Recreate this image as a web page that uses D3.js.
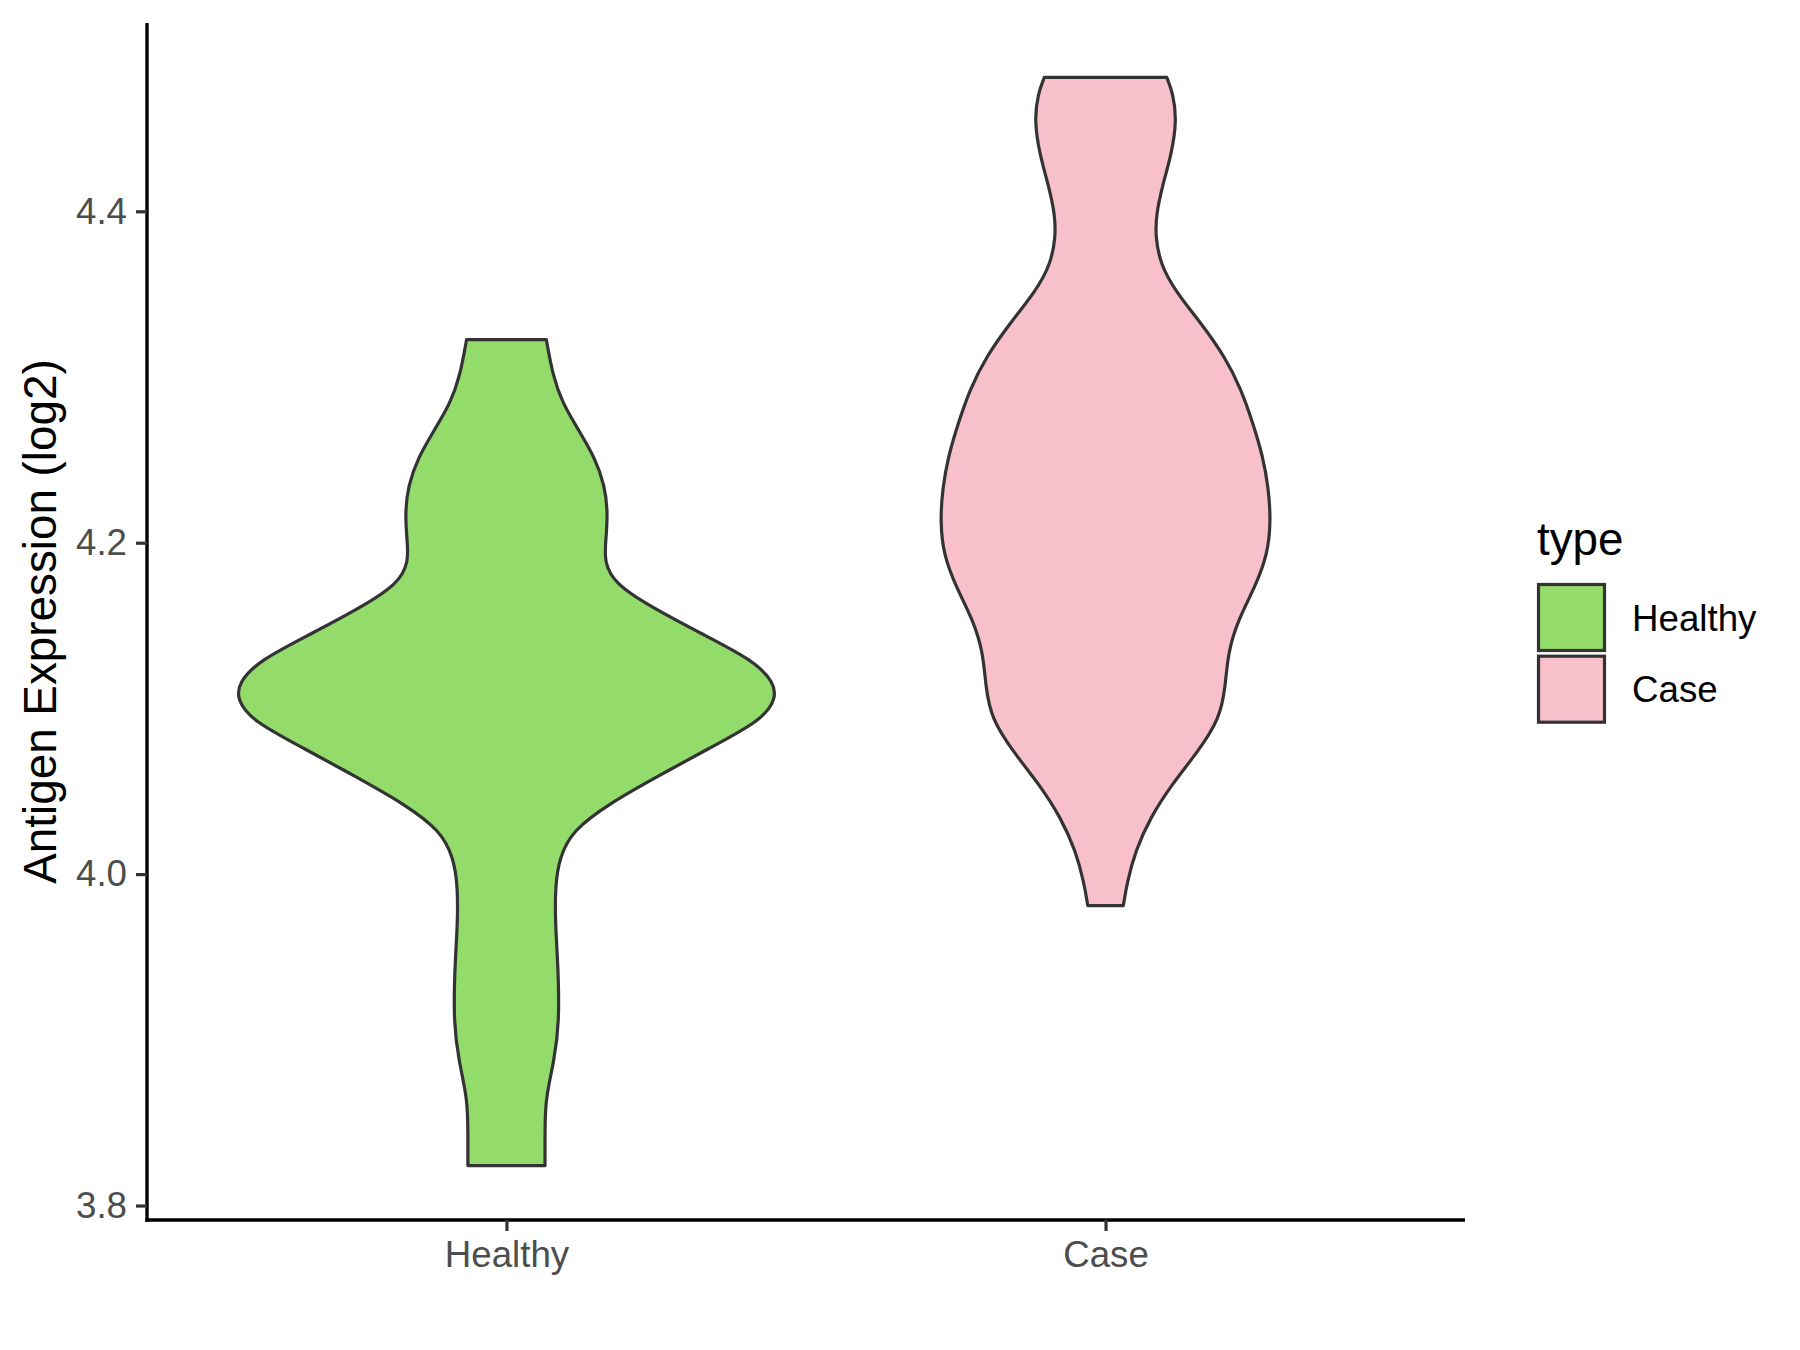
<!DOCTYPE html>
<html>
<head>
<meta charset="utf-8">
<script src="https://cdn.jsdelivr.net/npm/d3@7"></script>
<style>
  body { margin: 0; background: #fff; }
  text { font-family: "Liberation Sans", Arial, sans-serif; }
</style>
</head>
<body>
<script>
// categories and fills
var categories = ["Healthy", "Case"];
var fills = ["#93DB6B", "#F8C0CB"];

// density profile (value, relative width)
var healthyValues = [4.3225, 4.3008, 4.2845, 4.2676, 4.2513, 4.2344, 4.2181, 4.2018, 4.1885, 4.1753,
  4.1620, 4.1451, 4.1288, 4.1155, 4.1056, 4.0926, 4.0757, 4.0594, 4.0425, 4.0262,
  4.0096, 3.9931, 3.9701, 3.9436, 3.9104, 3.8872, 3.8640, 3.8440, 3.8241];
var healthyDensity = [0.148, 0.172, 0.207, 0.269, 0.328, 0.365, 0.376, 0.369, 0.362, 0.402,
  0.528, 0.723, 0.919, 0.993, 1.000, 0.945, 0.749, 0.565, 0.380, 0.244,
  0.196, 0.181, 0.181, 0.192, 0.196, 0.177, 0.144, 0.143, 0.143];

var caseValues = [4.4808, 4.4709, 4.4546, 4.4347, 4.4148, 4.3981, 4.3849, 4.3683, 4.3520, 4.3321,
  4.3122, 4.2923, 4.2724, 4.2525, 4.2326, 4.2127, 4.1928, 4.1731, 4.1532, 4.1336,
  4.1137, 4.0938, 4.0739, 4.0540, 4.0341, 4.0142, 3.9943, 3.9810];
var caseDensity = [0.227, 0.251, 0.264, 0.245, 0.210, 0.188, 0.185, 0.203, 0.258, 0.356,
  0.443, 0.504, 0.546, 0.583, 0.605, 0.613, 0.601, 0.554, 0.491, 0.454,
  0.445, 0.424, 0.343, 0.245, 0.166, 0.111, 0.079, 0.066];

var yTicks = [3.8, 4.0, 4.2, 4.4];

//Width and height
var w = 1800;
var h = 1350;
var padLeft = 147, padRight = 1465, padTop = 23, padBottom = 1220;

var groups = [
  { name: categories[0], fill: fills[0], values: healthyValues, density: healthyDensity },
  { name: categories[1], fill: fills[1], values: caseValues, density: caseDensity }
];

// y domain expanded 5% like ggplot
var allValues = healthyValues.concat(caseValues);
var lo = d3.min(allValues), hi = d3.max(allValues);
var pad = (hi - lo) * 0.05;

//Create scale functions
var xScale = d3.scalePoint()
  .domain(categories)
  .range([padLeft, padRight])
  .padding(0.6);

var yScale = d3.scaleLinear()
  .domain([lo - pad, hi + pad])
  .range([padBottom, padTop]);

var wScale = d3.scaleLinear()
  .domain([0, 1])
  .range([0, xScale.step() * 0.45]);

//Create SVG element
var svg = d3.select("body")
  .append("svg")
  .attr("width", w)
  .attr("height", h);

svg.append("rect").attr("width", w).attr("height", h).attr("fill", "#fff");

//Create violins
groups.forEach(function (g) {
  var cx = xScale(g.name);
  var pts = g.values.map(function (v, i) { return [v, g.density[i]]; });
  var area = d3.area()
    .y(function (d) { return yScale(d[0]); })
    .x0(function (d) { return cx - wScale(d[1]); })
    .x1(function (d) { return cx + wScale(d[1]); })
    .curve(d3.curveBasis);
  svg.append("path")
    .datum(pts)
    .attr("d", area)
    .attr("fill", g.fill)
    .attr("stroke", "#333333")
    .attr("stroke-width", 3.2)
    .attr("stroke-linejoin", "round");
});

//Define axes
var xAxis = d3.axisBottom(xScale).tickSize(11).tickPadding(10);
var yAxis = d3.axisLeft(yScale)
  .tickValues(yTicks)
  .tickFormat(d3.format(".1f"))
  .tickSize(11)
  .tickPadding(9);

//Create X axis
var gx = svg.append("g")
  .attr("transform", "translate(0," + padBottom + ")")
  .call(xAxis);
gx.select(".domain").attr("d", "M" + (padLeft - 1.7) + ",0H" + padRight)
  .attr("stroke", "#000").attr("stroke-width", 3.4);

//Create Y axis
var gy = svg.append("g")
  .attr("transform", "translate(" + padLeft + ",0)")
  .call(yAxis);
gy.select(".domain").attr("d", "M0," + padTop + "V" + (padBottom + 1.7))
  .attr("stroke", "#000").attr("stroke-width", 3.4);

[gx, gy].forEach(function (g) {
  g.selectAll(".tick line").attr("stroke", "#333333").attr("stroke-width", 3.2);
  g.selectAll(".tick text")
    .attr("fill", "#4D4D4D")
    .style("font-size", "36.7px")
    .style("font-family", "'Liberation Sans', Arial, sans-serif");
});

//Y axis title
svg.append("text")
  .attr("transform", "translate(56," + ((padTop + padBottom) / 2) + ") rotate(-90)")
  .attr("text-anchor", "middle")
  .attr("fill", "#000")
  .style("font-size", "45.8px")
  .text("Antigen Expression (log2)");

//Legend
var legend = svg.append("g").attr("transform", "translate(1537,0)");
legend.append("text")
  .attr("x", 0)
  .attr("y", 555)
  .attr("fill", "#000")
  .style("font-size", "45.8px")
  .text("type");

groups.forEach(function (g, i) {
  var ky = 584.5 + i * 71.7;
  legend.append("rect")
    .attr("x", 1.5)
    .attr("y", ky)
    .attr("width", 66)
    .attr("height", 66)
    .attr("fill", g.fill)
    .attr("stroke", "#333333")
    .attr("stroke-width", 3.2);
  legend.append("text")
    .attr("x", 95)
    .attr("y", ky + 33 + 13)
    .attr("fill", "#000")
    .style("font-size", "36.7px")
    .text(g.name);
});
</script>
</body>
</html>
